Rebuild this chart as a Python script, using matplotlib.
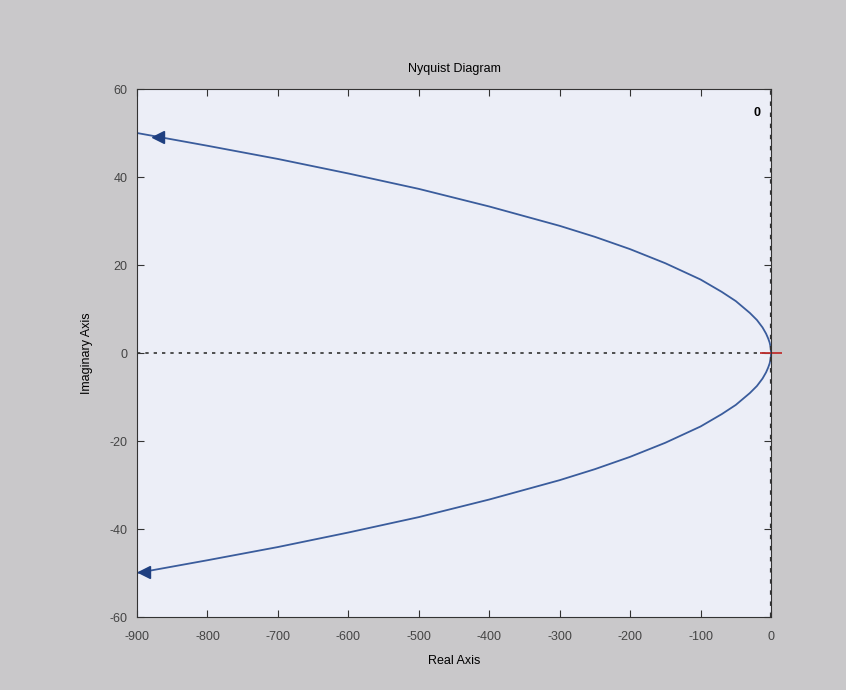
import numpy as np
import matplotlib.pyplot as plt

plt.rcParams['axes.unicode_minus'] = False
plt.rcParams['font.family'] = ['Liberation Sans', 'DejaVu Sans']

# points (lower branch is its mirror)
re_pts = [-900, -800, -700, -600, -500, -400, -300, -250, -200, -150,
          -100, -70, -50, -30, -20, -12, -7, -4, -2, -1, -0.4, -0.1, 0]
im_pts = [50.0, 47.1, 44.1, 40.8, 37.3, 33.3, 28.9, 26.4, 23.6, 20.4,
          16.7, 13.9, 11.8, 9.1, 7.5, 5.8, 4.4, 3.3, 2.4, 1.7, 1.05, 0.5, 0.0]

xticks = [-900, -800, -700, -600, -500, -400, -300, -200, -100, 0]
yticks = [-60, -40, -20, 0, 20, 40, 60]

line_col = '#3a5c9c'
fig = plt.figure(figsize=(8.46, 6.9), dpi=100, facecolor='#c9c8ca')
ax = fig.add_axes([137 / 846, 1 - 617 / 690, 634 / 846, 528 / 690])
ax.set_facecolor('#eceef7')

re = np.array(re_pts)
im = np.array(im_pts)
ax.plot(re, im, color=line_col, lw=1.3)
ax.plot(re, -im, color=line_col, lw=1.3)

# direction arrows
ax.plot(-870, 49.0, marker='<', color='#1f3f80', ms=8)
ax.plot(-890, -49.8, marker='<', color='#1f3f80', ms=8)

ax.axhline(0, color='#333333', ls=(0, (2, 3)), lw=1.2)
ax.axvline(0, color='#333333', ls=(0, (2, 3)), lw=1.6)
ax.plot(0, 0, marker='_', color='#c03030', ms=16, mew=1.3, clip_on=False)
ax.text(-20, 54.5, '0', fontsize=9, fontweight='bold', ha='center', va='center')

ax.set_xlim(-900, 0)
ax.set_ylim(-60, 60)
ax.set_xticks(xticks)
ax.set_yticks(yticks)
ax.tick_params(direction='in', top=True, right=True, labelsize=9,
               labelcolor='#444444', color='#333333', length=5)
ax.tick_params(axis='x', pad=10)
ax.tick_params(axis='y', pad=7)
for s in ax.spines.values():
    s.set_color('#333333')

ax.set_title('Nyquist Diagram', fontsize=9, pad=12)
ax.set_xlabel('Real Axis', fontsize=9, labelpad=9)
ax.set_ylabel('Imaginary Axis', fontsize=9, labelpad=12)

fig.savefig('out.png', dpi=100, facecolor=fig.get_facecolor())
